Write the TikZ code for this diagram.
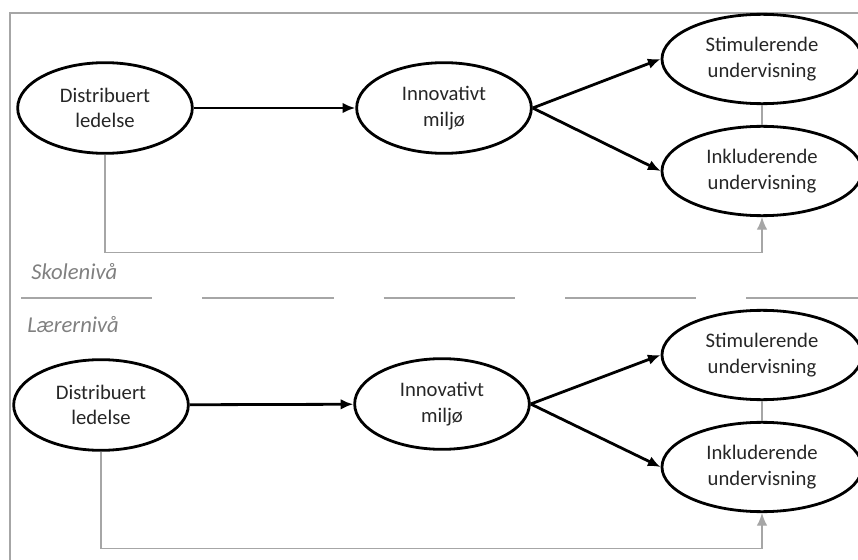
\documentclass[tikz,border=0pt]{standalone}
\usepackage{fontspec}
\setmainfont{Carlito}
\usetikzlibrary{shapes.geometric,arrows.meta}
\definecolor{linjegraa}{HTML}{A6A6A6}
\definecolor{tekstgraa}{HTML}{808080}
\definecolor{tekstmork}{HTML}{262626}

\begin{document}
\begin{tikzpicture}[x=0.75pt,y=-0.75pt,every path/.style={>={Latex[length=9.5pt,width=8pt]}},
  boble/.style={draw,ellipse,line width=2.1pt,align=center,inner sep=0pt,text=tekstmork,font=\fontsize{15.5}{19}\selectfont},
  liten/.style={boble,minimum width=131pt,minimum height=68pt},
  stor/.style={boble,minimum width=150pt,minimum height=67pt},
  pil/.style={->,line width=2.1pt},
  graa/.style={line width=1.1pt,draw=linjegraa},
  niva/.style={anchor=west,inner sep=0pt,text=tekstgraa,font=\itshape\fontsize{17}{20}\selectfont}]
\useasboundingbox (0,0) rectangle (858,560);
\draw[linjegraa,line width=0.8pt] (10,560) -- (10,13) -- (858,13);
% skolenivaa
\node[liten] (dl1) at (105,108) {Distribuert\\ledelse};
\node[liten] (io1) at (444,108) {Innovativt\\miljø};
\node[stor]  (su1) at (762,59)  {Stimulerende\\undervisning};
\node[stor]  (iu1) at (762,171) {Inkluderende\\undervisning};
% skille
\node[niva]  (skole)  at (31,272) {Skolenivå};
\draw[graa,dash pattern=on 98.5pt off 37.5pt] (21,298) -- (870,298);
\node[niva]  (laerer) at (27,325) {Lærernivå};
% laerernivaa
\node[liten] (dl2) at (101,405) {Distribuert\\ledelse};
\node[liten] (io2) at (442,404) {Innovativt\\miljø};
\node[stor]  (su2) at (762,355) {Stimulerende\\undervisning};
\node[stor]  (iu2) at (762,467) {Inkluderende\\undervisning};
\draw[pil]           (dl1) edge (io1);
\draw[pil]           (io1.east) -- (su1.west);
\draw[pil]           (io1.east) -- (iu1.west);
\draw[graa]          (su1) -- (iu1);
\draw[graa,->]       (dl1.south) -- ++(0,98) -| (iu1.south);
\draw[pil]           (dl2) edge (io2);
\draw[pil]           (io2.east) -- (su2.west);
\draw[pil]           (io2.east) -- (iu2.west);
\draw[graa]          (su2) -- (iu2);
\draw[graa,->]       (dl2.south) -- ++(0,97) -| (iu2.south);
\end{tikzpicture}
\end{document}
